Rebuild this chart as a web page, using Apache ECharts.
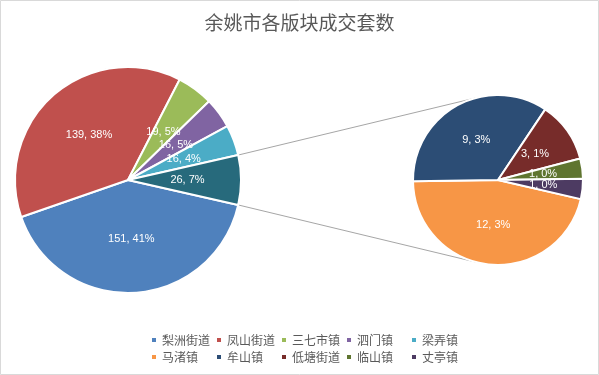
<!DOCTYPE html>
<html><head><meta charset="utf-8">
<script src="https://cdn.jsdelivr.net/npm/echarts@6/dist/echarts.min.js"></script>
<style>html,body{margin:0;padding:0;background:#fff}#c{width:599px;height:375px}</style>
</head><body><div id="c"></div>
<script>
const titleText = '余姚市各版块成交套数';
const mainNames = ['梨洲街道','凤山街道','三七市镇','泗门镇','梁弄镇','其他'];
const mainValues = [151,139,19,16,16,26];
const mainPct = [41,38,5,5,4,7];
const subNames = ['马渚镇','牟山镇','低塘街道','临山镇','丈亭镇'];
const subValues = [12,9,3,1,1];
const subPct = [3,3,1,0,0];
const mainColors = ['#4F81BD','#C0504D','#9BBB59','#8064A2','#4BACC6','#276A7C'];
const subColors = ['#F79646','#2C4D75','#772C2A','#5F7530','#4D3B62'];

const W = 599, H = 375;
const mainC = [128,180], mainR = 113;
const subC = [498,180], subR = 85;
const total = mainValues.reduce((a,b)=>a+b,0);
const half = mainValues[mainValues.length-1]/total*180; // degrees
const mainStart = -half;
const subStart = -13;

function tangent(P, C, r, upper){
  const dx = P[0]-C[0], dy = P[1]-C[1];
  const d = Math.sqrt(dx*dx+dy*dy);
  const th = Math.atan2(dy, dx);
  const al = Math.acos(r/d);
  const a = upper ? th + al : th - al;
  return [C[0]+r*Math.cos(a), C[1]+r*Math.sin(a)];
}
const ha = half*Math.PI/180;
const pU = [mainC[0]+mainR*Math.cos(ha), mainC[1]-mainR*Math.sin(ha)];
const pL = [mainC[0]+mainR*Math.cos(ha), mainC[1]+mainR*Math.sin(ha)];
const tU = tangent(pU, subC, subR, true);
const tL = tangent(pL, subC, subR, false);

const chart = echarts.init(document.getElementById('c'), null, {renderer:'canvas'});
const labelStyle = {show:true, position:'inside', color:'#fff', fontSize:11, fontFamily:'Liberation Sans, Arial, sans-serif'};
const legendCols = [145, 210, 275, 340, 405];
const legends = legendCols.map((x, i) => ({
  icon:'rect', itemWidth:6, itemHeight:6, itemGap:5, left:x, top:329, orient:'vertical',
  textStyle:{color:'#595959', fontSize:12, fontFamily:'"Noto Sans CJK SC", sans-serif'},
  selectedMode:false,
  data:[mainNames[i], subNames[i]]
}));
chart.setOption({
  animation:false,
  backgroundColor:'#fff',
  title:{text:titleText, left:'center', top:8,
    textStyle:{color:'#595959', fontSize:19, fontWeight:'normal', fontFamily:'"Noto Sans CJK SC", sans-serif'}},
  legend:legends,
  graphic:[
    {type:'rect', shape:{x:0.5,y:0.5,width:W-1,height:H-1}, style:{fill:null, stroke:'#D9D9D9', lineWidth:1}, silent:true, z:-1},
    {type:'line', shape:{x1:pU[0],y1:pU[1],x2:tU[0],y2:tU[1]}, style:{stroke:'#A6A6A6', lineWidth:1}, silent:true, z:-1},
    {type:'line', shape:{x1:pL[0],y1:pL[1],x2:tL[0],y2:tL[1]}, style:{stroke:'#A6A6A6', lineWidth:1}, silent:true, z:-1}
  ],
  series:[
    {type:'pie', center:mainC, radius:mainR, startAngle:mainStart, clockwise:true,
     avoidLabelOverlap:false, labelLine:{show:false},
     itemStyle:{borderColor:'#fff', borderWidth:2},
     emphasis:{disabled:true},
     label:Object.assign({}, labelStyle, {formatter:p => p.value + ', ' + mainPct[p.dataIndex] + '%'}),
     data:mainNames.map((n,i)=>({name:n, value:mainValues[i], itemStyle:{color:mainColors[i]}}))},
    {type:'pie', center:subC, radius:subR, startAngle:subStart, clockwise:true,
     avoidLabelOverlap:false, labelLine:{show:false},
     itemStyle:{borderColor:'#fff', borderWidth:2},
     emphasis:{disabled:true},
     label:Object.assign({}, labelStyle, {formatter:p => p.value + ', ' + subPct[p.dataIndex] + '%'}),
     data:subNames.map((n,i)=>({name:n, value:subValues[i], itemStyle:{color:subColors[i]}}))}
  ]
});
</script></body></html>
